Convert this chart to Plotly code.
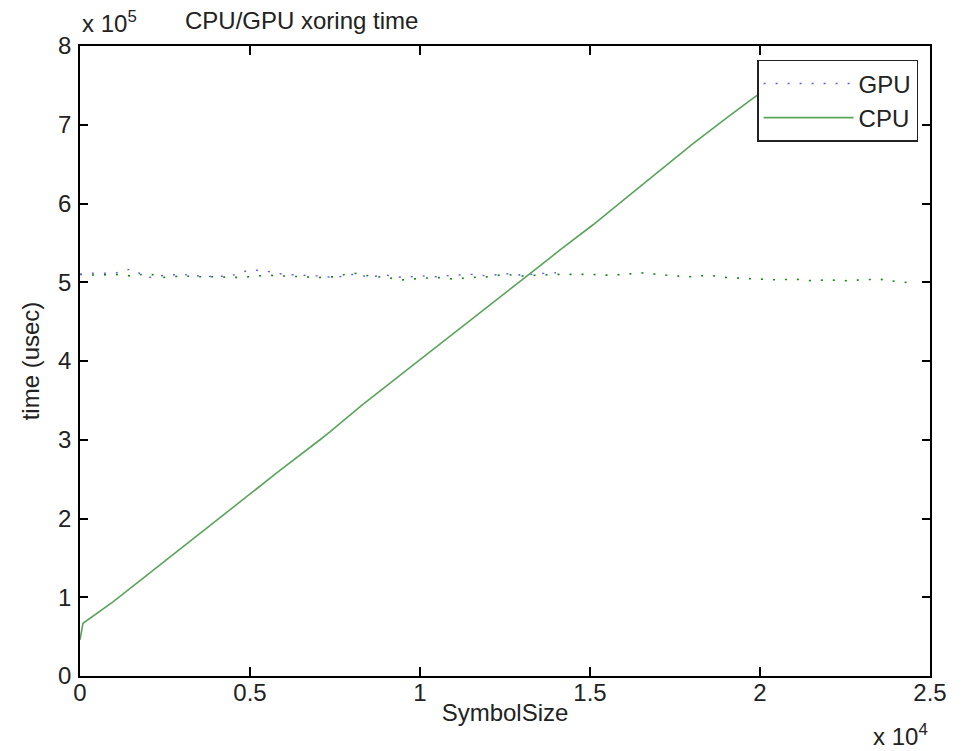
import plotly.graph_objects as go

# CPU xoring time (usec) vs SymbolSize
cpu_x = [0, 88, 970, 1470, 1970, 2440, 3235, 3910, 4910, 5880, 7060, 7350, 8320, 9320,
         10290, 11260, 12260, 13235, 14120, 15090, 16090, 17060, 18030, 19030, 19710, 20500]
cpu_y = [0.46e5, 0.67e5, 0.94e5, 1.11e5, 1.28e5, 1.44e5, 1.71e5, 1.94e5, 2.29e5, 2.61e5,
         3.00e5, 3.10e5, 3.45e5, 3.79e5, 4.12e5, 4.45e5, 4.78e5, 5.11e5, 5.41e5, 5.73e5,
         6.08e5, 6.42e5, 6.76e5, 7.09e5, 7.31e5, 7.55e5]

# GPU xoring time (usec) - blue dotted part (visible up to ~1.4e4)
gpu_x = [0, 500, 1000, 1500, 2000, 2500, 3000, 3500, 4000, 4500, 5000, 5500, 6000, 6500,
         7000, 7500, 8000, 8500, 9000, 9500, 10000, 10500, 11000, 11500, 12000, 12500,
         13000, 13500, 14000]
gpu_y = [5.10e5, 5.12e5, 5.11e5, 5.17e5, 5.06e5, 5.09e5, 5.10e5, 5.08e5, 5.07e5, 5.09e5,
         5.16e5, 5.14e5, 5.10e5, 5.09e5, 5.08e5, 5.06e5, 5.10e5, 5.07e5, 5.09e5, 5.06e5,
         5.08e5, 5.07e5, 5.09e5, 5.10e5, 5.08e5, 5.11e5, 5.09e5, 5.11e5, 5.12e5]

# GPU green dotted overlay (full range)
gpu2_x = [i * 500 for i in range(50)]
gpu2_y = [5.10e5, 5.09e5, 5.10e5, 5.08e5, 5.11e5, 5.06e5, 5.08e5, 5.07e5, 5.07e5, 5.06e5,
          5.07e5, 5.09e5, 5.08e5, 5.07e5, 5.06e5, 5.07e5, 5.12e5, 5.08e5, 5.06e5, 5.03e5,
          5.05e5, 5.06e5, 5.04e5, 5.06e5, 5.07e5, 5.10e5, 5.08e5, 5.09e5, 5.10e5, 5.10e5,
          5.10e5, 5.09e5, 5.10e5, 5.12e5, 5.10e5, 5.08e5, 5.07e5, 5.09e5, 5.06e5, 5.05e5,
          5.04e5, 5.03e5, 5.04e5, 5.02e5, 5.03e5, 5.02e5, 5.03e5, 5.04e5, 5.01e5, 4.99e5]

x_tickvals = [0, 5000, 10000, 15000, 20000, 25000]
x_ticktext = ["0", "0.5", "1", "1.5", "2", "2.5"]
y_tickvals = [0, 1e5, 2e5, 3e5, 4e5, 5e5, 6e5, 7e5, 8e5]
y_ticktext = ["0", "1", "2", "3", "4", "5", "6", "7", "8"]

FONT = "Liberation Sans, Arial, sans-serif"
FS = 24

fig = go.Figure()
fig.add_trace(go.Scatter(x=gpu2_x, y=gpu2_y, mode="lines", showlegend=False,
                         line=dict(color="#108a10", width=1.6, dash="2px,10px")))
fig.add_trace(go.Scatter(x=gpu_x, y=gpu_y, mode="lines", name="GPU",
                         line=dict(color="#5a5aff", width=1.4, dash="2px,10px")))
fig.add_trace(go.Scatter(x=cpu_x, y=cpu_y, mode="lines", name="CPU",
                         line=dict(color="#5aa45a", width=1.6)))

axis_common = dict(showgrid=False, zeroline=False, showline=True, linecolor="black",
                   linewidth=1.5, mirror="ticks", ticks="inside", tickcolor="black",
                   tickwidth=1.5, tickfont=dict(family=FONT, size=FS, color="#222"))

fig.update_layout(
    width=957, height=743,
    margin=dict(l=72, r=35, t=38, b=75),
    paper_bgcolor="white", plot_bgcolor="white",
    font=dict(family=FONT, size=FS, color="#222"),
    xaxis=dict(range=[0, 25000], tickvals=x_tickvals, ticktext=x_ticktext, ticklen=9,
               ticklabelstandoff=-6,
               title=dict(text="SymbolSize", standoff=0, font=dict(family=FONT, size=FS)),
               **axis_common),
    yaxis=dict(range=[0, 8e5], tickvals=y_tickvals, ticktext=y_ticktext, ticklen=8,
               ticklabelstandoff=2,
               title=dict(text="time (usec)", standoff=12, font=dict(family=FONT, size=FS)),
               **axis_common),
    legend=dict(x=0.986, y=0.978, xanchor="right", yanchor="top",
                bgcolor="white", bordercolor="#222", borderwidth=1.5,
                font=dict(family=FONT, size=FS, color="#222"),
                itemwidth=90, tracegroupgap=0),
    showlegend=True,
    annotations=[
        dict(text="CPU/GPU xoring time", xref="paper", yref="paper", x=0.26, y=1.016,
             xanchor="center", yanchor="bottom", showarrow=False,
             font=dict(family=FONT, size=FS, color="#222")),
        dict(text="x 10<sup>5</sup>", xref="paper", yref="paper", x=0.0, y=1.011,
             xanchor="left", yanchor="bottom", showarrow=False,
             font=dict(family=FONT, size=FS, color="#222")),
        dict(text="x 10<sup>4</sup>", xref="paper", yref="paper", x=1.0, y=-0.12,
             xanchor="right", yanchor="bottom", showarrow=False,
             font=dict(family=FONT, size=FS, color="#222")),
    ],
)

fig.write_html("out.html")
